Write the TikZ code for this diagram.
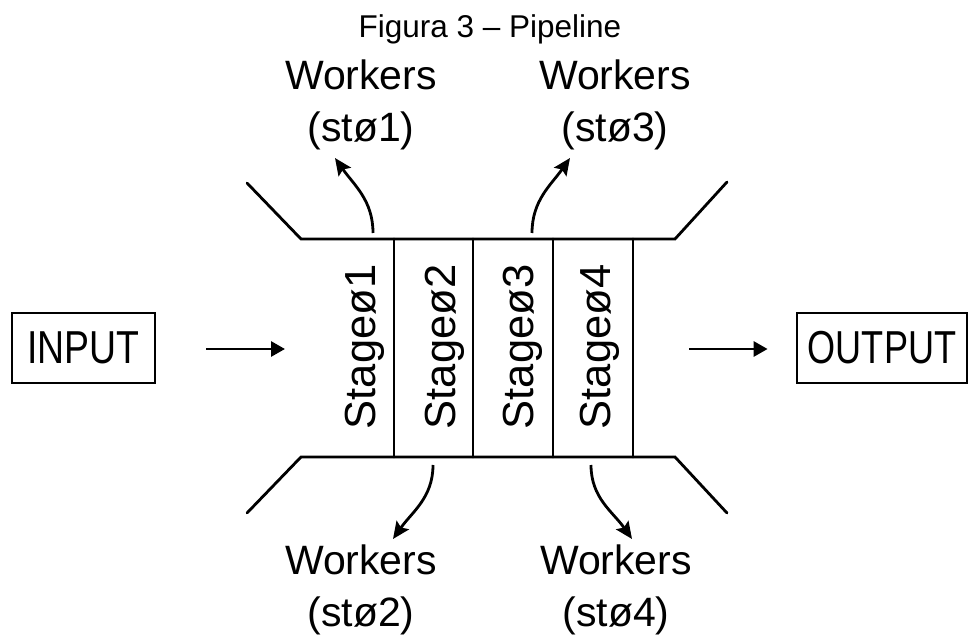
\documentclass[tikz,border=0pt]{standalone}
\usepackage{fontspec}
\setmainfont{Liberation Sans}
\usetikzlibrary{arrows.meta}
\begin{document}
\begin{tikzpicture}[x=1pt,y=1pt,
  pipe/.style={line width=2.8pt,line cap=round,line join=miter},
  iobox/.style={draw,line width=2.8pt,minimum width=143pt,minimum height=70pt,inner sep=0pt},
  stagelbl/.style={rotate=90,anchor=base,inner sep=0pt,font=\fontsize{43.5}{43.5}\selectfont},
  wlabel/.style={align=center,inner sep=0pt,font=\fontsize{41}{52}\selectfont},
  flow/.style={line width=2.8pt,-{Triangle[length=14pt,width=15pt]}},
  handoff/.style={line width=2.8pt,-{Stealth[length=17pt,width=15pt,inset=3pt]}}]
\useasboundingbox (0,0) rectangle (969,635);

% title
\node[anchor=base,inner sep=0pt,font=\fontsize{31.5}{31.5}\selectfont] (title) at (490,597) {Figura 3 – Pipeline};

% input and output boxes
\node[iobox] (inp) at (83.5,287) {\scalebox{0.85}[1.05]{\fontsize{44}{44}\selectfont INPUT}};
\node[iobox,minimum width=170pt] (outp) at (882,287) {\scalebox{0.82}[1.05]{\fontsize{44}{44}\selectfont OUTPUT}};

% pipe outline
\coordinate (tl) at (301,396);
\coordinate (tr) at (675,396);
\coordinate (bl) at (301,178);
\coordinate (br) at (675,178);
\draw[pipe] (247,452) -- (tl) -- (tr) -- (727,453);
\draw[pipe] (247,122) -- (bl) -- (br) -- (727,122);

% stage dividers
\foreach \x/\n in {394/a,473/b,553/c,633/d}{
  \coordinate (d\n t) at (\x,396);
  \coordinate (d\n b) at (\x,178);
  \draw[pipe] (d\n t) -- (d\n b);
}

% stage labels
\node[stagelbl] (s1) at (375,288) {Stageø1};
\node[stagelbl] (s2) at (455,288) {Stageø2};
\node[stagelbl] (s3) at (533,288) {Stageø3};
\node[stagelbl] (s4) at (610,288) {Stageø4};

% flow in and out
\coordinate (pin) at (301,286);
\coordinate (pout) at (675,286);
\draw[flow,shorten <=50pt,shorten >=16pt] (inp.east |- pin) -- (pin);
\draw[flow,shorten <=14pt,shorten >=28pt] (pout) -- (outp.west |- pout);

% worker labels
\node[wlabel] (w1) at (361,530) {Workers\\(stø1)};
\node[wlabel] (w3) at (615,530) {Workers\\(stø3)};
\node[wlabel] (w2) at (361,45) {Workers\\(stø2)};
\node[wlabel] (w4) at (616,45) {Workers\\(stø4)};

% hand-off arrows to workers
\coordinate (a1) at (373,402); \coordinate (e1) at (335,477);
\coordinate (a3) at (532,402); \coordinate (e3) at (570,477);
\coordinate (a2) at (433,170); \coordinate (e2) at (393,96);
\coordinate (a4) at (591,170); \coordinate (e4) at (632,96);
\draw[handoff] (a1) to[out=90,in=-55] (e1);
\draw[handoff] (a3) to[out=90,in=-125] (e3);
\draw[handoff] (a2) to[out=-90,in=55] (e2);
\draw[handoff] (a4) to[out=-90,in=125] (e4);
\end{tikzpicture}
\end{document}
